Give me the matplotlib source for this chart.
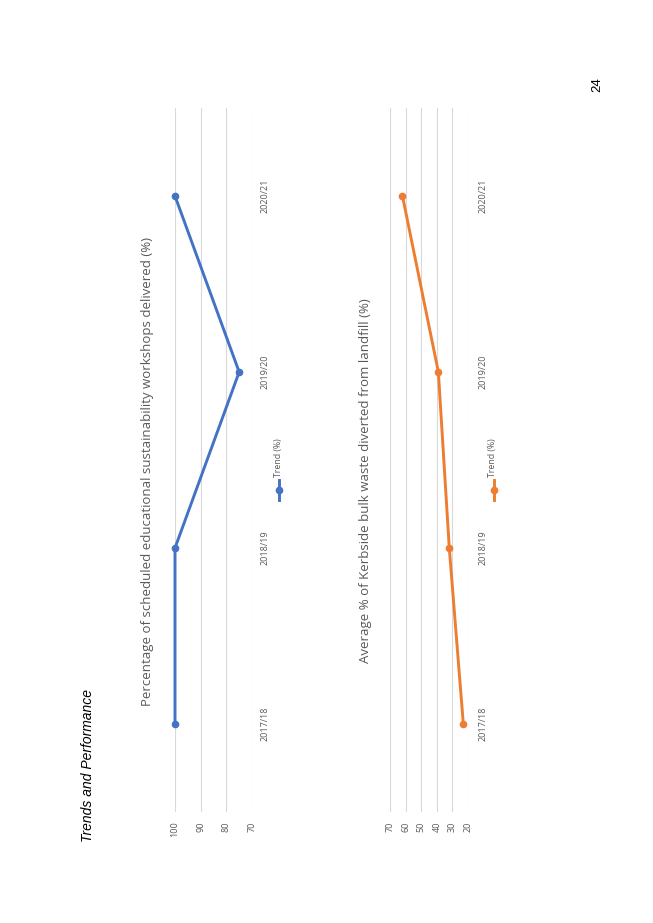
import matplotlib
matplotlib.use('Agg')
import matplotlib.pyplot as plt
from matplotlib.lines import Line2D

years = ['2017/18', '2018/19', '2019/20', '2020/21']
workshops = [100, 100, 75, 100]
waste = [23, 32, 39, 62]
workshop_ticks = [100, 90, 80, 70]
waste_ticks = [70, 60, 50, 40, 30, 20]

W, H = 653, 923
fig = plt.figure(figsize=(W / 100, H / 100), dpi=100)
fig.patch.set_facecolor('white')

grey = '#595959'
plt.rcParams['font.family'] = ['Open Sans', 'DejaVu Sans']


def box(x0, y0, x1, y1):
  # page pixels (top-left origin) -> figure fraction rect
  return [x0 / W, 1 - y1 / H, (x1 - x0) / W, (y1 - y0) / H]


def chart(rect, vals, ticks, color, title, title_xy, leg_x, cat_pad):
  ax = fig.add_axes(box(*rect))
  pos = list(range(len(years)))
  ax.plot(vals, pos, color=color, lw=2.1, marker='o', ms=4.5,
          clip_on=False, zorder=3)
  ax.set_xlim(ticks[0], ticks[-1])
  ax.set_ylim(-0.5, len(years) - 0.5)
  ax.set_xticks(ticks)
  ax.set_xticklabels([str(t) for t in ticks], rotation=90, fontsize=6.5,
                     color=grey)
  ax.set_yticks(pos)
  ax.set_yticklabels(years, rotation=90, fontsize=6.5, color=grey, va='center')
  ax.yaxis.tick_right()
  ax.tick_params(length=0)
  ax.tick_params(axis='x', pad=7)
  ax.tick_params(axis='y', pad=cat_pad)
  ax.grid(axis='x', color='#d9d9d9', lw=0.8)
  ax.set_axisbelow(True)
  ax.set_facecolor('none')
  for s in ax.spines.values():
    s.set_visible(False)

  fig.text(title_xy[0] / W, 1 - title_xy[1] / H, title, rotation=90,
           ha='center', va='center', fontsize=9.5, color=grey)

  # legend key drawn vertically like the rotated page
  fig.add_artist(Line2D([leg_x / W] * 2, [1 - 500 / H, 1 - 480 / H],
                        color=color, lw=2.1))
  fig.add_artist(Line2D([leg_x / W], [1 - 490 / H], color=color,
                        marker='o', ms=4.5))
  fig.text((leg_x - 1) / W, 1 - 477 / H, 'Trend (%)', rotation=90,
           ha='center', va='bottom', fontsize=6.3, color=grey)
  return ax


chart((175, 108, 252, 812), workshops, workshop_ticks, '#4472C4',
      'Percentage of scheduled educational sustainability workshops delivered (%)',
      (148, 472), 279, 6)
chart((390, 108, 468, 812), waste, waste_ticks, '#ED7D31',
      'Average % of Kerbside bulk waste diverted from landfill (%)',
      (365, 481), 494, 7.5)

fig.text(88 / W, 1 - 765 / H, 'Trends and Performance', rotation=90,
         ha='center', va='center', fontsize=10, style='italic',
         family='Liberation Sans', color='black')
fig.text(597 / W, 1 - 85 / H, '24', rotation=90, ha='center', va='center',
         fontsize=9.5, family='Liberation Sans', color='black')

fig.savefig('out.png', dpi=100)
